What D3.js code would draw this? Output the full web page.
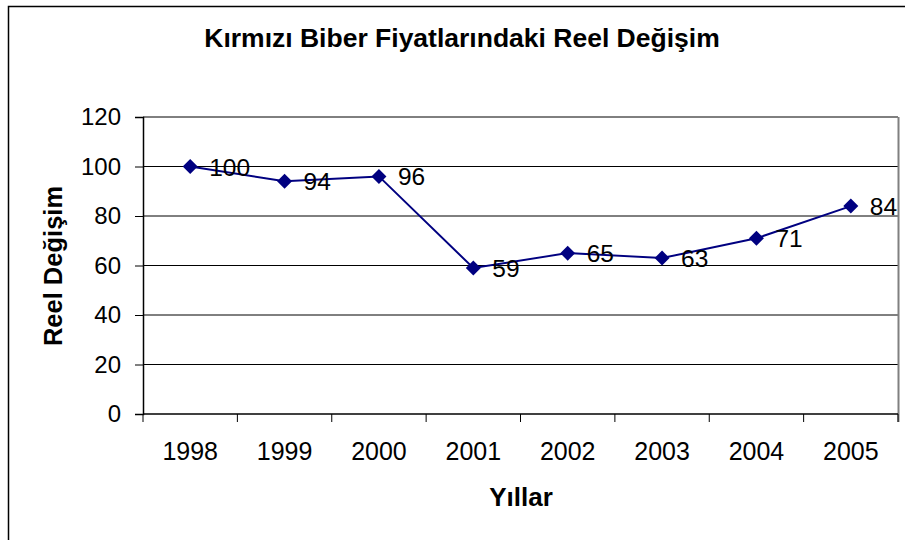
<!DOCTYPE html>
<html>
<head>
<meta charset="utf-8">
<script src="https://cdn.jsdelivr.net/npm/d3@7"></script>
<style>
  body { margin: 0; background: #fff; }
  text { font-family: "Liberation Sans", Arial, sans-serif; fill: #000; }
</style>
</head>
<body>
<script>
// chart data
var years = ["1998", "1999", "2000", "2001", "2002", "2003", "2004", "2005"];
var values = [100, 94, 96, 59, 65, 63, 71, 84];
var yTicks = [0, 20, 40, 60, 80, 100, 120];

var width = 905, height = 540;
var plot = {left: 143, top: 117, right: 898, bottom: 414};

var svg = d3.select("body").append("svg")
    .attr("width", width)
    .attr("height", height);

// outer chart frame (right/bottom edges fall outside the picture)
svg.append("rect")
    .attr("x", 8.5).attr("y", 6.5)
    .attr("width", 920).attr("height", 560)
    .attr("fill", "#fff")
    .attr("stroke", "#000")
    .attr("stroke-width", 1.5);

var x = d3.scaleBand()
    .domain(years)
    .range([plot.left, plot.right]);

var y = d3.scaleLinear()
    .domain([0, 120])
    .range([plot.bottom, plot.top]);

// gridlines
svg.append("g")
    .selectAll("line")
    .data(yTicks.filter(d => d > 0))
    .enter().append("line")
    .attr("x1", plot.left).attr("x2", plot.right)
    .attr("y1", d => y(d)).attr("y2", d => y(d))
    .attr("stroke", "#000")
    .attr("stroke-width", 1);

// plot area right edge
svg.append("line")
    .attr("x1", plot.right + 0.5).attr("x2", plot.right + 0.5)
    .attr("y1", plot.top).attr("y2", plot.bottom + 8)
    .attr("stroke", "#808080")
    .attr("stroke-width", 2);

// y axis
var yAxis = svg.append("g")
    .attr("transform", "translate(" + plot.left + ",0)")
    .call(d3.axisLeft(y).tickValues(yTicks).tickSize(8).tickPadding(14));
yAxis.select(".domain").attr("stroke", "#000").attr("stroke-width", 1.5);
yAxis.selectAll(".tick line").attr("stroke", "#000");
yAxis.selectAll("text")
    .attr("font-size", "24px")
    .attr("font-family", "Liberation Sans, Arial, sans-serif")
    .attr("fill", "#000");

// x axis, ticks between categories
var xAxis = svg.append("g")
    .attr("transform", "translate(0," + plot.bottom + ")");
xAxis.append("line")
    .attr("x1", plot.left).attr("x2", plot.right)
    .attr("stroke", "#000").attr("stroke-width", 1.5);
xAxis.selectAll(".xtick")
    .data(years.concat(["end"]))
    .enter().append("line")
    .attr("x1", (d, i) => plot.left + i * x.step())
    .attr("x2", (d, i) => plot.left + i * x.step())
    .attr("y1", 0).attr("y2", 8)
    .attr("stroke", "#000");
xAxis.selectAll(".xlabel")
    .data(years)
    .enter().append("text")
    .attr("x", d => x(d) + x.bandwidth() / 2)
    .attr("y", 46)
    .attr("text-anchor", "middle")
    .attr("font-size", "25px")
    .text(d => d);

// series line
var line = d3.line()
    .x((d, i) => x(years[i]) + x.bandwidth() / 2)
    .y(d => y(d));

svg.append("path")
    .datum(values)
    .attr("d", line)
    .attr("fill", "none")
    .attr("stroke", "#000080")
    .attr("stroke-width", 2);

// diamond markers
svg.selectAll(".marker")
    .data(values)
    .enter().append("path")
    .attr("class", "marker")
    .attr("d", "M0,-7.5L7.5,0L0,7.5L-7.5,0Z")
    .attr("transform", (d, i) => "translate(" + (x(years[i]) + x.bandwidth() / 2) + "," + y(d) + ")")
    .attr("fill", "#000080");

// data labels
svg.selectAll(".label")
    .data(values)
    .enter().append("text")
    .attr("x", (d, i) => x(years[i]) + x.bandwidth() / 2 + 19)
    .attr("y", d => y(d) + 9)
    .attr("font-size", "24.5px")
    .text(d => d);

// titles
svg.append("text")
    .attr("x", 462).attr("y", 47)
    .attr("text-anchor", "middle")
    .attr("font-size", "26.5px")
    .attr("font-weight", "bold")
    .text("Kırmızı Biber Fiyatlarındaki Reel Değişim");

svg.append("text")
    .attr("transform", "translate(62,266) rotate(-90)")
    .attr("text-anchor", "middle")
    .attr("font-size", "25.5px")
    .attr("font-weight", "bold")
    .text("Reel Değişim");

svg.append("text")
    .attr("x", 521).attr("y", 506)
    .attr("text-anchor", "middle")
    .attr("font-size", "26px")
    .attr("font-weight", "bold")
    .text("Yıllar");
</script>
</body>
</html>
